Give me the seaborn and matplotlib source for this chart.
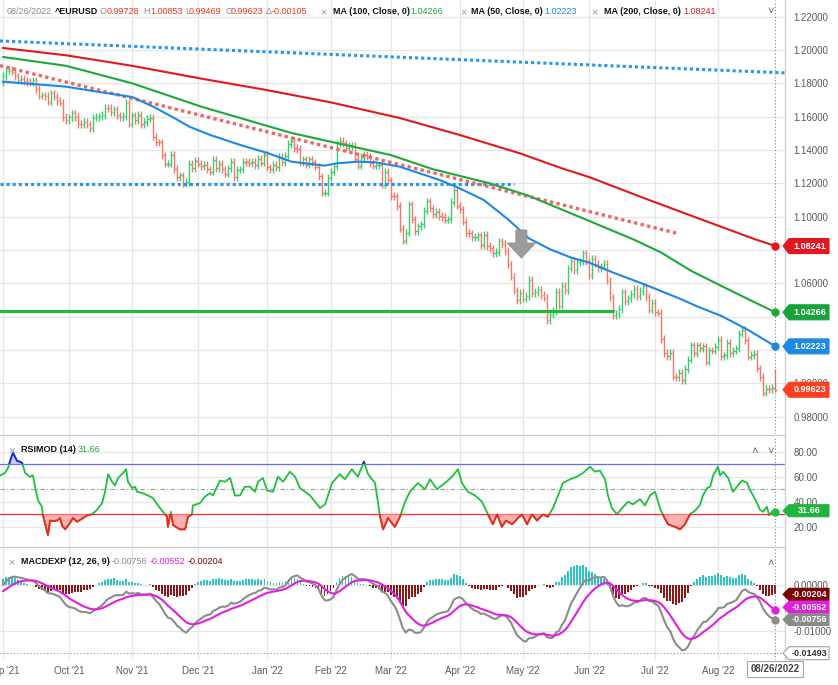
import numpy as np
import pandas as pd
import matplotlib
matplotlib.use("Agg")
import matplotlib.pyplot as plt
import seaborn as sns
from matplotlib.patches import Polygon, Rectangle
from matplotlib.lines import Line2D
from matplotlib.transforms import IdentityTransform

# ---------------------------------------------------------------- data
start_date, end_date = "2021-09-01", "2022-08-26"

# closes before the visible window (only used to seed MACD)
warmup_close = [1.1848, 1.1865, 1.1866, 1.1822, 1.1790, 1.1844, 1.1877, 1.1860, 1.1776, 1.1836, 1.1811,
                1.1805, 1.1801, 1.1781, 1.1794, 1.1771, 1.1771, 1.1801, 1.1816, 1.1843, 1.1888, 1.1870,
                1.1867, 1.1868, 1.1836, 1.1833, 1.1761, 1.1736, 1.1718, 1.1738, 1.1730, 1.1793, 1.1778,
                1.1712, 1.1711, 1.1676, 1.1698, 1.1746, 1.1757, 1.1771, 1.1750, 1.1795, 1.1796, 1.1807]

close_sep21 = [1.1843, 1.1875, 1.1880, 1.1870, 1.1842, 1.1818, 1.1827, 1.1813, 1.1808, 1.1806, 1.1817,
               1.1765, 1.1726, 1.1728, 1.1723, 1.1689, 1.1740, 1.1720, 1.1694, 1.1683, 1.1597, 1.1578]
close_oct21 = [1.1595, 1.1620, 1.1597, 1.1555, 1.1553, 1.1570, 1.1553, 1.1530, 1.1594, 1.1597, 1.1601,
               1.1609, 1.1653, 1.1652, 1.1625, 1.1643, 1.1608, 1.1597, 1.1603, 1.1682, 1.1558]
close_nov21 = [1.1608, 1.1580, 1.1612, 1.1556, 1.1568, 1.1587, 1.1592, 1.1479, 1.1446, 1.1445, 1.1368,
               1.1318, 1.1319, 1.1372, 1.1287, 1.1236, 1.1249, 1.1198, 1.1209, 1.1318, 1.1293, 1.1337]
close_dec21 = [1.1319, 1.1302, 1.1313, 1.1284, 1.1270, 1.1342, 1.1292, 1.1317, 1.1285, 1.1258, 1.1290,
               1.1331, 1.1239, 1.1283, 1.1285, 1.1330, 1.1329, 1.1321, 1.1328, 1.1309, 1.1348, 1.1325, 1.1370]
close_jan22 = [1.1297, 1.1285, 1.1312, 1.1296, 1.1360, 1.1326, 1.1367, 1.1437, 1.1455, 1.1412, 1.1406,
               1.1325, 1.1344, 1.1313, 1.1344, 1.1326, 1.1301, 1.1242, 1.1144, 1.1145, 1.1235]
close_feb22 = [1.1271, 1.1303, 1.1440, 1.1453, 1.1440, 1.1415, 1.1424, 1.1425, 1.1349, 1.1306, 1.1358,
               1.1373, 1.1363, 1.1322, 1.1307, 1.1308, 1.1309, 1.1192, 1.1270, 1.1218]
close_mar22 = [1.1125, 1.1122, 1.1065, 1.0929, 1.0856, 1.0904, 1.1075, 1.0985, 1.0912, 1.0942, 1.0955,
               1.1036, 1.1092, 1.1051, 1.1016, 1.1030, 1.1005, 1.0999, 1.0983, 1.0984, 1.1089, 1.1161, 1.1067]
close_apr22 = [1.1045, 1.0971, 1.0903, 1.0900, 1.0878, 1.0878, 1.0888, 1.0828, 1.0890, 1.0825, 1.0810,
               1.0783, 1.0789, 1.0853, 1.0837, 1.0795, 1.0714, 1.0640, 1.0557, 1.0498, 1.0545]
close_may22 = [1.0509, 1.0525, 1.0620, 1.0540, 1.0549, 1.0562, 1.0530, 1.0514, 1.0380, 1.0412, 1.0435,
               1.0550, 1.0466, 1.0586, 1.0561, 1.0690, 1.0734, 1.0680, 1.0727, 1.0733, 1.0781, 1.0733]
close_jun22 = [1.0650, 1.0749, 1.0719, 1.0693, 1.0703, 1.0716, 1.0616, 1.0517, 1.0408, 1.0416, 1.0446,
               1.0547, 1.0493, 1.0511, 1.0537, 1.0566, 1.0522, 1.0554, 1.0582, 1.0519, 1.0443, 1.0484]
close_jul22 = [1.0427, 1.0424, 1.0266, 1.0182, 1.0162, 1.0183, 1.0041, 1.0037, 1.0062, 1.0018, 1.0086,
               1.0143, 1.0228, 1.0181, 1.0229, 1.0212, 1.0222, 1.0131, 1.0199, 1.0196, 1.0220]
close_aug22 = [1.0260, 1.0165, 1.0169, 1.0245, 1.0183, 1.0197, 1.0211, 1.0298, 1.0322, 1.0258, 1.0160,
               1.0170, 1.0179, 1.0091, 1.0038, 0.9944, 0.9969, 0.9966, 0.99728, 0.99623]

last_open, last_high, last_low, last_close = 0.99728, 1.00853, 0.99469, 0.99623
bar_wick = 0.0022

# moving averages (bar index, value)
ma200_i = [0, 21, 43, 66, 87, 109, 132, 152, 172, 186, 195, 215, 232, 250, 257]
ma200_v = [1.2012, 1.1968, 1.1905, 1.1828, 1.1762, 1.1686, 1.1592, 1.1490, 1.1380, 1.1290, 1.1238,
           1.1100, 1.0986, 1.0866, 1.08241]
ma100_i = [0, 21, 43, 66, 96, 129, 143, 162, 175, 195, 210, 219, 229, 239, 248, 257]
ma100_v = [1.1958, 1.1905, 1.1800, 1.1660, 1.1502, 1.1370, 1.1285, 1.1200, 1.1125, 1.0975, 1.0862,
           1.0785, 1.0675, 1.0585, 1.0505, 1.04266]
ma50_i = [0, 21, 32, 43, 50, 57, 62, 69, 79, 88, 96, 107, 111, 118, 124, 132, 145, 151, 160, 168,
          175, 182, 189, 195, 203, 214, 225, 231, 239, 248, 257]
ma50_v = [1.1810, 1.1780, 1.1748, 1.1718, 1.1660, 1.1592, 1.1540, 1.1490, 1.1430, 1.1382, 1.1330,
          1.1306, 1.1320, 1.1330, 1.1326, 1.1300, 1.1222, 1.1178, 1.1100, 1.0985, 1.0870, 1.0805,
          1.0755, 1.0725, 1.0665, 1.0590, 1.0510, 1.0462, 1.0405, 1.0320, 1.02223]

# RSIMOD(14): (bar position, value)
rsi_points = [(-0.9, 61), (0.7, 63), (1.7, 67), (3.0, 77), (3.4, 79), (4.7, 72.6), (5.7, 72), (6.4, 71),
              (7.4, 63), (9.0, 60), (10.0, 61), (10.7, 52), (11.7, 41), (13.0, 36), (13.3, 29.5),
              (15.0, 13.5), (15.7, 25), (16.7, 24.6), (18.0, 25), (19.0, 27), (19.7, 21), (20.7, 18),
              (22.3, 23), (23.3, 27), (24.7, 24), (26.7, 27), (28.3, 29.5), (29.6, 30), (31.3, 33.5),
              (33.0, 39), (34.0, 48), (35.0, 62), (36.3, 56), (37.3, 53), (38.3, 59), (40.0, 63),
              (41.0, 66), (41.6, 56), (43.0, 51), (44.0, 52), (44.6, 48), (46.3, 47), (47.9, 45.4),
              (49.9, 43), (51.6, 37), (53.3, 32), (54.6, 28), (54.9, 20), (55.9, 32), (56.6, 21.4),
              (58.9, 18), (60.6, 18), (61.6, 28), (62.9, 30), (63.2, 37), (65.6, 39), (67.2, 44),
              (68.9, 47), (69.9, 45), (72.2, 57), (73.9, 56), (75.6, 59), (77.2, 45), (78.9, 45),
              (80.5, 52), (82.2, 52), (83.9, 48), (84.9, 56), (86.5, 59), (87.9, 49), (89.9, 48),
              (91.5, 60), (93.2, 56), (95.5, 64), (97.2, 60), (98.8, 51), (102.2, 45), (105.5, 35),
              (107.2, 38), (109.5, 55), (112.1, 62), (113.8, 58), (116.1, 66), (118.1, 60), (120.1, 72),
              (121.5, 62), (123.8, 55), (125.5, 28), (126.5, 18), (128.1, 27), (130.4, 20), (132.1, 28),
              (133.8, 40), (135.4, 48), (138.1, 55), (140.4, 50), (142.1, 58), (144.4, 50), (147.1, 55),
              (149.4, 60), (151.4, 66), (152.7, 55), (154.7, 48), (157.1, 45), (159.4, 40), (161.4, 30),
              (163.0, 22), (164.4, 30), (166.0, 20), (167.4, 25), (169.4, 22), (171.4, 27), (172.7, 30),
              (174.4, 22), (176.0, 30), (177.7, 25), (179.7, 30), (181.3, 28), (183.0, 35), (184.7, 45),
              (186.3, 55), (188.7, 58), (191.0, 60), (193.0, 63), (195.3, 68), (197.0, 64), (198.6, 65),
              (200.3, 58), (201.3, 45), (202.6, 35), (204.3, 30), (206.0, 35), (208.0, 40), (209.6, 38),
              (212.0, 42), (213.6, 37), (215.3, 45), (217.0, 48), (218.6, 35), (219.9, 28), (221.3, 22),
              (223.6, 20), (225.3, 18), (226.9, 22), (228.6, 30), (230.3, 33), (231.9, 37.4), (232.9, 45),
              (234.3, 51), (235.3, 52), (236.3, 61), (237.9, 68), (238.6, 61), (239.6, 64), (241.3, 59),
              (242.9, 48), (244.2, 52), (245.9, 57), (247.6, 55), (248.6, 49), (249.6, 45), (250.9, 39),
              (251.9, 33.5), (252.9, 32), (254.2, 36), (254.9, 29.5), (255.9, 32), (257.0, 31.66)]

# drawn trend / support lines (bar index, price)
trend_blue_i, trend_blue_v = [-1, 261], [1.2054, 1.1862]
support_blue_i, support_blue_v = [-1, 170], [1.1195, 1.1195]
trend_red_i, trend_red_v = [-1, 224], [1.1906, 1.0902]
support_green_i, support_green_v = [-1, 203], [1.0436, 1.0436]
arrow_i, arrow_v = 172.5, 1.0920

month_labels = ["Sep '21", "Oct '21", "Nov '21", "Dec '21", "Jan '22", "Feb '22", "Mar '22",
                "Apr '22", "May '22", "Jun '22", "Jul '22", "Aug '22"]
price_ticks = [0.98, 1.00, 1.02, 1.04, 1.06, 1.08, 1.10, 1.12, 1.14, 1.16, 1.18, 1.20, 1.22]
price_ticks_hidden = [1.02, 1.04, 1.08]   # covered by the value tags in the reference
rsi_ticks = [20, 40, 60, 80]
macd_ticks = [0.0, -0.01]

hdr_date = "08/26/2022"
hdr_ohlc = [("O", "0.99728"), ("H", "1.00853"), ("L", "0.99469"), ("C", "0.99623"), ("Δ", "-0.00105")]
ma_vals = {"MA100": 1.04266, "MA50": 1.02223, "MA200": 1.08241}
rsi_last_txt = "31.66"
macd_last = (-0.00756, -0.00552, -0.00204)
macd_low_mark = -0.01493

# ---------------------------------------------------------------- derived
close = np.array(close_sep21 + close_oct21 + close_nov21 + close_dec21 + close_jan22 + close_feb22 +
                 close_mar22 + close_apr22 + close_may22 + close_jun22 + close_jul22 + close_aug22)
dates = pd.bdate_range(start_date, end_date)
n = len(dates)
assert n == len(close), (n, len(close))
x = np.arange(n)
opn = np.r_[warmup_close[-1], close[:-1]]
hi = np.maximum(opn, close) + bar_wick
lo = np.minimum(opn, close) - bar_wick
opn[-1], hi[-1], lo[-1], close[-1] = last_open, last_high, last_low, last_close

rsi_x, rsi_v = (np.array(a, dtype=float) for a in zip(*rsi_points))

allc = pd.Series(np.r_[warmup_close, close])
ema12 = allc.ewm(span=12, adjust=False).mean()
ema26 = allc.ewm(span=26, adjust=False).mean()
macd_s = ema12 - ema26
sig_s = macd_s.ewm(span=9, adjust=False).mean()
macd = macd_s.to_numpy()[-n:]
sig = sig_s.to_numpy()[-n:]
hist = macd - sig

month_starts = [i for i in range(n) if i == 0 or dates[i].month != dates[i - 1].month]

# ---------------------------------------------------------------- style
sns.set_theme(style="white")
plt.rcParams['font.family'] = ['Liberation Sans', 'DejaVu Sans']
W, H = 838, 685
fig = plt.figure(figsize=(W / 100, H / 100), dpi=100)
fig.patch.set_facecolor("white")

GRID = "#e6e6e6"
GRAY_TXT = "#5a5a5a"
UP, DOWN = "#3bcc72", "#f4786a"
C200, C100, C50 = "#e3171f", "#1fa83a", "#1e88e5"


def fax(x0, y0, x1, y1):
    return fig.add_axes([x0 / W, 1 - y1 / H, (x1 - x0) / W, (y1 - y0) / H])


ax_p = fax(0, 0, 785, 434)
ax_r = fax(0, 436, 785, 546)
ax_m = fax(0, 547, 785, 660)
XL = (-0.965, 260.2)
for ax in (ax_p, ax_r, ax_m):
    ax.set_xlim(*XL)
    for s in ax.spines.values():
        s.set_visible(False)
    ax.set_xticks(month_starts)
    ax.grid(True, color=GRID, lw=0.9, zorder=0)
    ax.set_axisbelow(True)
    ax.yaxis.tick_right()
    ax.tick_params(axis="y", length=0, pad=6, labelsize=7, labelcolor=GRAY_TXT)
    ax.tick_params(axis="x", length=0, labelsize=7, labelcolor=GRAY_TXT)
    ax.axvline(n - 1, color="#808080", lw=0.8, ls=(0, (1, 2)), zorder=6)
    ax.set_facecolor("white")

# ---------------------------------------------------------------- price panel
ax_p.set_ylim(0.96968, 1.22996)
ax_p.set_yticks(price_ticks)
ax_p.set_yticklabels(["" if t in price_ticks_hidden else f"{t:.5f}" for t in price_ticks])
ax_p.tick_params(axis="x", labelbottom=False)

cols = np.where(close >= opn, UP, DOWN)
ax_p.vlines(x, lo, hi, colors=cols, lw=1.0, zorder=2)
ax_p.hlines(opn, x - 0.45, x, colors=cols, lw=1.0, zorder=2)
ax_p.hlines(close, x, x + 0.45, colors=cols, lw=1.0, zorder=2)

ax_p.plot(trend_blue_i, trend_blue_v, color="#2196f3", lw=2.2, ls=(0, (1, 1)), zorder=3)
ax_p.plot(support_blue_i, support_blue_v, color="#2196f3", lw=2.2, ls=(0, (1, 1)), zorder=3)
ax_p.plot(trend_red_i, trend_red_v, color="#f26464", lw=2.4, ls=(0, (1, 1)), zorder=3)
ax_p.plot(support_green_i, support_green_v, color="#1bbd3c", lw=2.2, zorder=3)

ax_p.plot(ma200_i, ma200_v, color=C200, lw=1.5, zorder=4)
ax_p.plot(ma100_i, ma100_v, color=C100, lw=1.5, zorder=4)
ax_p.plot(ma50_i, ma50_v, color=C50, lw=1.5, zorder=4)
for v, c in ((ma200_v[-1], C200), (ma100_v[-1], C100), (ma50_v[-1], C50)):
    ax_p.plot(n - 1, v, "o", ms=5, color=c, zorder=7, clip_on=False)

# gray down arrow
axp_x, axp_y = ax_p.transData.transform((arrow_i, arrow_v))
arrow_pts = [(axp_x - 5.5, axp_y), (axp_x + 5.5, axp_y), (axp_x + 5.5, axp_y - 13), (axp_x + 14, axp_y - 13),
             (axp_x, axp_y - 28), (axp_x - 14, axp_y - 13), (axp_x - 5.5, axp_y - 13)]
fig.add_artist(Polygon(arrow_pts, closed=True, transform=IdentityTransform(), fc="#9c9c9c",
                       ec="#8c8c8c", lw=0.6, zorder=5))

# ---------------------------------------------------------------- RSI panel
ax_r.set_ylim(4.7, 92.5)
ax_r.set_yticks(rsi_ticks)
ax_r.set_yticklabels([f"{t:.2f}" for t in rsi_ticks])
ax_r.tick_params(axis="x", labelbottom=False)
ax_r.axhline(70, color="#6a6aff", lw=0.9, zorder=2)
ax_r.axhline(30, color="#ff2a2a", lw=0.9, zorder=2)
ax_r.axhline(50, color="#9a9a9a", lw=0.8, ls=(0, (4, 2, 1, 2)), zorder=2)
ax_r.fill_between(rsi_x, rsi_v, 30, where=rsi_v < 30, interpolate=True, color="#ffa3a3", alpha=0.85,
                  lw=0, zorder=2)
ax_r.fill_between(rsi_x, rsi_v, 70, where=rsi_v > 70, interpolate=True, color="#a8a8ff", alpha=0.6,
                  lw=0, zorder=2)
ax_r.plot(rsi_x, rsi_v, color="#1fbf3f", lw=1.3, zorder=3)
ln_lo, = ax_r.plot(rsi_x, rsi_v, color="#ff1f1f", lw=1.3, zorder=4)
ln_lo.set_clip_path(Rectangle((-10, -50), 300, 80, transform=ax_r.transData))
ln_hi, = ax_r.plot(rsi_x, rsi_v, color="#2424e8", lw=1.3, zorder=4)
ln_hi.set_clip_path(Rectangle((-10, 70), 300, 100, transform=ax_r.transData))
ax_r.plot(rsi_x[-1], rsi_v[-1], "o", ms=5, color="#1fbf3f", zorder=7, clip_on=False)

# ---------------------------------------------------------------- MACD panel
ax_m.set_ylim(-0.01641, 0.00832)
ax_m.set_yticks(macd_ticks)
ax_m.set_yticklabels(["0.00000", "-0.01000"])
ax_m.set_xticklabels(month_labels)
ax_m.tick_params(axis="x", pad=4)
ax_m.axhline(macd_low_mark, color="#8a8a8a", lw=0.8, ls=(0, (1, 2)), zorder=2)
ax_m.bar(x, hist, width=0.6, color=np.where(hist >= 0, "#2cc4c4", "#8e1616"), lw=0, zorder=2)
ax_m.plot(x, macd, color="#8c8c8c", lw=1.5, zorder=3)
ax_m.plot(x, sig, color="#e020e0", lw=1.5, zorder=4)
ax_m.plot(n - 1, macd[-1], "o", ms=5, color="#8c8c8c", zorder=7, clip_on=False)
ax_m.plot(n - 1, sig[-1], "o", ms=5, color="#e020e0", zorder=7, clip_on=False)

# ---------------------------------------------------------------- frame lines
for yy in (435, 546.5):
    fig.add_artist(Line2D([0, 785 / W], [1 - yy / H] * 2, transform=fig.transFigure, color="#cccccc", lw=1))
fig.add_artist(Line2D([785 / W] * 2, [1 - 660 / H, 1], transform=fig.transFigure, color="#d0d0d0", lw=1))


# ---------------------------------------------------------------- texts
def ftxt(px, py, s, color, bold=False, size=6.5, ha="left", **kw):
    fig.text(px / W, 1 - py / H, s, color=color, fontsize=size, ha=ha, va="center",
             fontweight="bold" if bold else "normal", zorder=12, **kw)


RED_TXT = "#f5331c"
ftxt(7, 12, hdr_date, "#8a8a8a")
ftxt(55, 12, "^EURUSD", "#111111", bold=True)
for (lab, val), xl, xv in zip(hdr_ohlc, (100, 143, 185, 225, 266), (107, 150, 189, 231, 272)):
    ftxt(xl, 12, lab, "#8a8a8a")
    ftxt(xv, 12, val, RED_TXT)
ftxt(320, 12, "×", "#9a9a9a", size=8)
ftxt(333, 12, "MA (100, Close, 0)", "#111111", bold=True)
ftxt(410, 12, f"{ma_vals['MA100']:.5f}", C100)
ftxt(460, 12, "×", "#9a9a9a", size=8)
ftxt(471, 12, "MA (50, Close, 0)", "#111111", bold=True)
ftxt(544, 12, f"{ma_vals['MA50']:.5f}", C50)
ftxt(591, 12, "×", "#9a9a9a", size=8)
ftxt(604, 12, "MA (200, Close, 0)", "#111111", bold=True)
ftxt(683, 12, f"{ma_vals['MA200']:.5f}", C200)
ftxt(767, 11, "˅", "#666666", size=8)

ftxt(8, 450, "×", "#9a9a9a", size=8)
ftxt(21, 450, "RSIMOD (14)", "#111111", bold=True)
ftxt(78, 450, rsi_last_txt, "#1fa83a")
ftxt(751, 451, "˄", "#666666", size=8)
ftxt(767, 451, "˅", "#666666", size=8)

ftxt(8, 562, "×", "#9a9a9a", size=8)
ftxt(21, 562, "MACDEXP (12, 26, 9)", "#111111", bold=True)
ftxt(112, 562, f"{macd_last[0]:.5f}", "#8a8a8a")
ftxt(150, 562, f"{macd_last[1]:.5f}", "#e020e0")
ftxt(188, 562, f"{macd_last[2]:.5f}", "#8b0000")
ftxt(767, 563, "˄", "#666666", size=8)

zc = [20]


def tag(ax, val, s, fc, tc="white", ec=None, h=15, dy=0.0, bold=True):
    yd = ax.transData.transform((0, val))[1] + dy
    x0, x1, tw = 783, 829, 6
    zc[0] += 2
    poly = Polygon([(x0, yd), (x0 + tw, yd + h / 2), (x1, yd + h / 2), (x1, yd - h / 2), (x0 + tw, yd - h / 2)],
                   closed=True, transform=IdentityTransform(), fc=fc, ec=ec or fc, lw=0.8, zorder=zc[0])
    fig.add_artist(poly)
    fig.text((x0 + tw + x1) / 2 / W + 0.5 / W, yd / H, s, color=tc, fontsize=6.5, ha="center", va="center",
             fontweight="bold" if bold else "normal", zorder=zc[0] + 1)


tag(ax_p, ma_vals["MA200"], f"{ma_vals['MA200']:.5f}", C200)
tag(ax_p, ma_vals["MA100"], f"{ma_vals['MA100']:.5f}", "#18a23a")
tag(ax_p, ma_vals["MA50"], f"{ma_vals['MA50']:.5f}", C50)
tag(ax_p, last_close, f"{last_close:.5f}", "#ff3d1f")
tag(ax_r, float(rsi_last_txt), rsi_last_txt, "#1fb43e", h=12, dy=1.5)
tag(ax_m, macd_last[2], f"{macd_last[2]:.5f}", "#7d0000", h=12)
tag(ax_m, macd_last[1], f"{macd_last[1]:.5f}", "#e01ee0", h=12, dy=3)
tag(ax_m, macd_last[0], f"{macd_last[0]:.5f}", "#8a8a8a", h=12)
tag(ax_m, macd_low_mark, f"{macd_low_mark:.5f}", "white", tc="#333333", ec="#a0a0a0", h=13)

fig.text(775 / W, 1 - 669 / H, hdr_date, color="#444444", fontsize=7, ha="center", va="center",
         fontweight="bold", zorder=30,
         bbox=dict(boxstyle="square,pad=0.35", fc="white", ec="#a8a8a8", lw=0.8))

fig.savefig("out.png", dpi=100)
